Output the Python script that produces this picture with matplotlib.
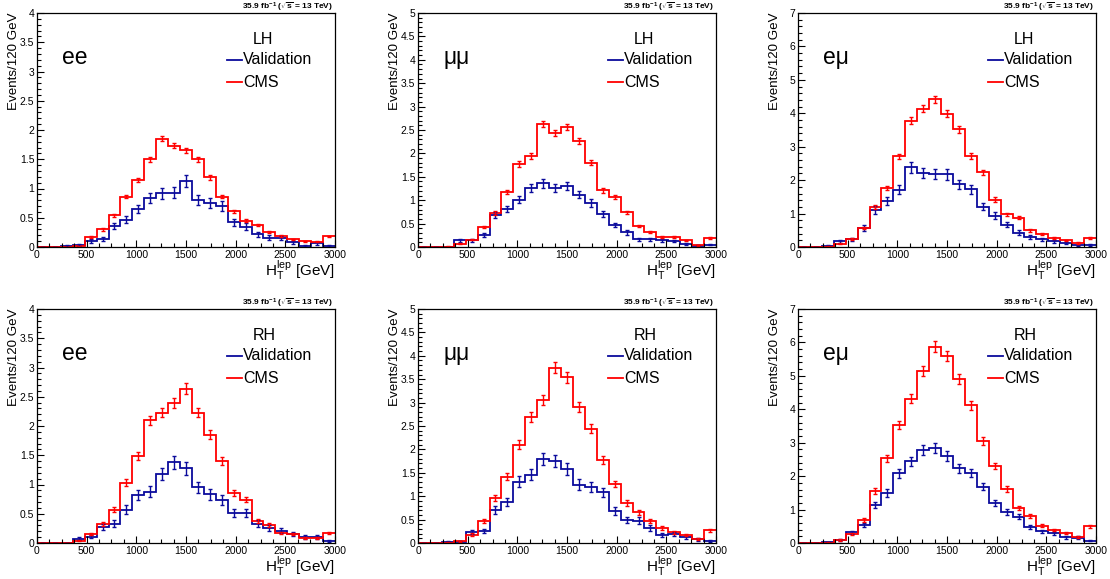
import numpy as np
import matplotlib
matplotlib.use("Agg")
import matplotlib.pyplot as plt
from matplotlib.ticker import MultipleLocator, FuncFormatter

plt.rcParams['font.family'] = ['Liberation Sans', 'DejaVu Sans']
plt.rcParams['mathtext.fontset'] = 'custom'
plt.rcParams['mathtext.rm'] = 'Liberation Sans'
plt.rcParams['mathtext.it'] = 'Liberation Sans'
plt.rcParams['mathtext.bf'] = 'Liberation Sans:bold'

# 25 bins of 120 GeV between 0 and 3000 GeV
bin_edges = [0, 120, 240, 360, 480, 600, 720, 840, 960, 1080, 1200, 1320, 1440,
             1560, 1680, 1800, 1920, 2040, 2160, 2280, 2400, 2520, 2640, 2760, 2880, 3000]

channels = ["ee", "μμ", "eμ", "ee", "μμ", "eμ"]
helicity = ["LH", "LH", "LH", "RH", "RH", "RH"]
y_max = [4, 5, 7, 4, 5, 7]

# Events per bin, validation sample
val_ee_lh = [0, 0, 0.02, 0.03, 0.10, 0.13, 0.36, 0.47, 0.65, 0.84, 0.92, 0.93, 1.13,
             0.81, 0.75, 0.70, 0.42, 0.35, 0.22, 0.16, 0.15, 0.08, 0.02, 0.06, 0.02]
val_mm_lh = [0, 0, 0, 0.14, 0.14, 0.26, 0.68, 0.81, 1.01, 1.26, 1.36, 1.26, 1.30,
             1.12, 0.94, 0.71, 0.47, 0.31, 0.17, 0.17, 0.14, 0.13, 0.06, 0.03, 0.05]
val_em_lh = [0, 0, 0.03, 0.17, 0.23, 0.57, 1.11, 1.37, 1.72, 2.39, 2.21, 2.18, 2.17,
             1.87, 1.73, 1.21, 0.94, 0.67, 0.43, 0.30, 0.23, 0.17, 0.12, 0.05, 0.07]
val_ee_rh = [0, 0, 0, 0.07, 0.11, 0.27, 0.33, 0.57, 0.82, 0.88, 1.18, 1.38, 1.28,
             0.95, 0.83, 0.74, 0.51, 0.51, 0.33, 0.26, 0.21, 0.15, 0.10, 0.10, 0.03]
val_mm_rh = [0, 0, 0.02, 0.03, 0.24, 0.26, 0.71, 0.88, 1.31, 1.46, 1.79, 1.76, 1.58,
             1.25, 1.19, 1.08, 0.68, 0.49, 0.48, 0.32, 0.17, 0.20, 0.12, 0.08, 0.04]
val_em_rh = [0, 0, 0.02, 0.08, 0.32, 0.53, 1.14, 1.50, 2.08, 2.44, 2.77, 2.84, 2.60,
             2.24, 2.09, 1.69, 1.20, 0.92, 0.79, 0.49, 0.35, 0.29, 0.17, 0.16, 0.07]

# Events per bin, CMS sample
cms_ee_lh = [0, 0, 0, 0.01, 0.17, 0.30, 0.54, 0.86, 1.14, 1.50, 1.85, 1.73, 1.65,
             1.50, 1.19, 0.86, 0.61, 0.45, 0.38, 0.25, 0.19, 0.13, 0.10, 0.09, 0.18]
cms_mm_lh = [0, 0, 0.01, 0.07, 0.16, 0.43, 0.73, 1.17, 1.77, 1.95, 2.63, 2.43, 2.56,
             2.26, 1.80, 1.21, 1.06, 0.74, 0.45, 0.32, 0.21, 0.22, 0.14, 0.04, 0.20]
cms_em_lh = [0, 0, 0.01, 0.10, 0.25, 0.57, 1.20, 1.77, 2.71, 3.78, 4.14, 4.42, 3.98,
             3.52, 2.73, 2.23, 1.42, 0.98, 0.88, 0.50, 0.40, 0.27, 0.20, 0.12, 0.26]
cms_ee_rh = [0, 0, 0, 0.04, 0.15, 0.33, 0.57, 1.03, 1.49, 2.10, 2.23, 2.40, 2.64,
             2.23, 1.85, 1.40, 0.86, 0.74, 0.38, 0.31, 0.17, 0.15, 0.09, 0.08, 0.17]
cms_mm_rh = [0, 0, 0.01, 0.04, 0.18, 0.47, 0.96, 1.42, 2.10, 2.70, 3.05, 3.75, 3.54,
             2.91, 2.44, 1.78, 1.26, 0.85, 0.66, 0.47, 0.32, 0.23, 0.17, 0.09, 0.27]
cms_em_rh = [0, 0, 0.01, 0.09, 0.27, 0.69, 1.55, 2.53, 3.53, 4.32, 5.14, 5.87, 5.60,
             4.90, 4.12, 3.05, 2.30, 1.62, 1.05, 0.81, 0.52, 0.39, 0.29, 0.17, 0.50]

# Mean per-event weights of each sample (stat. error = sqrt(w * content))
val_weights = [0.009, 0.006, 0.011, 0.0096, 0.0095, 0.008]
cms_weights = [0.0011, 0.0019, 0.0027, 0.003, 0.004, 0.0044]

validation = [val_ee_lh, val_mm_lh, val_em_lh, val_ee_rh, val_mm_rh, val_em_rh]
cms = [cms_ee_lh, cms_mm_lh, cms_em_lh, cms_ee_rh, cms_mm_rh, cms_em_rh]

lumi_text = r"35.9 fb$^{\mathbf{-1}}$ ($\mathbf{\sqrt{s}}$ = 13 TeV)"

BLUE = "#0b0b9c"
RED = "#ff0000"

W, H = 1110, 579
fig = plt.figure(figsize=(W / 100, H / 100), dpi=100)

lefts = [37, 418, 798]
tops = [13, 309]
ax_w, ax_h = 298, 234

edges = np.array(bin_edges, dtype=float)
centers = 0.5 * (edges[:-1] + edges[1:])


def fmt_num(v, pos):
    return f"{v:g}"


for i in range(6):
    row, col = divmod(i, 3)
    x0, y0 = lefts[col], tops[row]
    ax = fig.add_axes([x0 / W, 1 - (y0 + ax_h) / H, ax_w / W, ax_h / H])

    for vals, w, color in ((validation[i], val_weights[i], BLUE),
                           (cms[i], cms_weights[i], RED)):
        v = np.array(vals, dtype=float)
        err = np.sqrt(w * v)
        ax.stairs(v, edges, color=color, lw=1.3, baseline=None)
        ax.errorbar(centers, v, yerr=err, fmt='none', ecolor=color,
                    elinewidth=1.0, capsize=1.3, capthick=1.0)

    ax.set_xlim(0, 3000)
    ax.set_ylim(0, y_max[i])

    ax.xaxis.set_major_locator(MultipleLocator(500))
    ax.xaxis.set_minor_locator(MultipleLocator(125))
    if y_max[i] == 7:
        ax.yaxis.set_major_locator(MultipleLocator(1))
        ax.yaxis.set_minor_locator(MultipleLocator(0.2))
    else:
        ax.yaxis.set_major_locator(MultipleLocator(0.5))
        ax.yaxis.set_minor_locator(MultipleLocator(0.1))
    ax.yaxis.set_major_formatter(FuncFormatter(fmt_num))

    ax.tick_params(which='both', direction='in', top=False, right=False,
                   labelsize=7.5, width=0.8, pad=2)
    ax.tick_params(which='major', length=5)
    ax.tick_params(which='minor', length=2.6)
    for s in ax.spines.values():
        s.set_linewidth(0.9)

    # axis titles, ROOT style: flush with the axis ends
    ax.text(1.0, -0.1, r"H$_{\rm T}^{\rm lep}$ [GeV]", transform=ax.transAxes,
            ha='right', va='center', fontsize=11)
    ax.text(-0.077, 1.0, "Events/120 GeV", transform=ax.transAxes, rotation=90,
            ha='center', va='top', fontsize=9.6)
    ax.text(0.993, 1.012, lumi_text, transform=ax.transAxes, ha='right',
            va='baseline', fontsize=6, fontweight='bold')

    # channel label and legend
    ax.text(0.084, 0.81, channels[i], transform=ax.transAxes, ha='left',
            va='center', fontsize=16.5)
    ax.text(0.725, 0.885, helicity[i], transform=ax.transAxes, ha='left',
            va='center', fontsize=11.5)
    for yy, label, color in ((0.80, "Validation", BLUE), (0.705, "CMS", RED)):
        ax.plot([0.638, 0.688], [yy, yy], transform=ax.transAxes, color=color,
                lw=1.3, clip_on=False)
        ax.text(0.692, yy, label, transform=ax.transAxes, ha='left',
                va='center', fontsize=11.5)

fig.savefig("out.png", dpi=100)
